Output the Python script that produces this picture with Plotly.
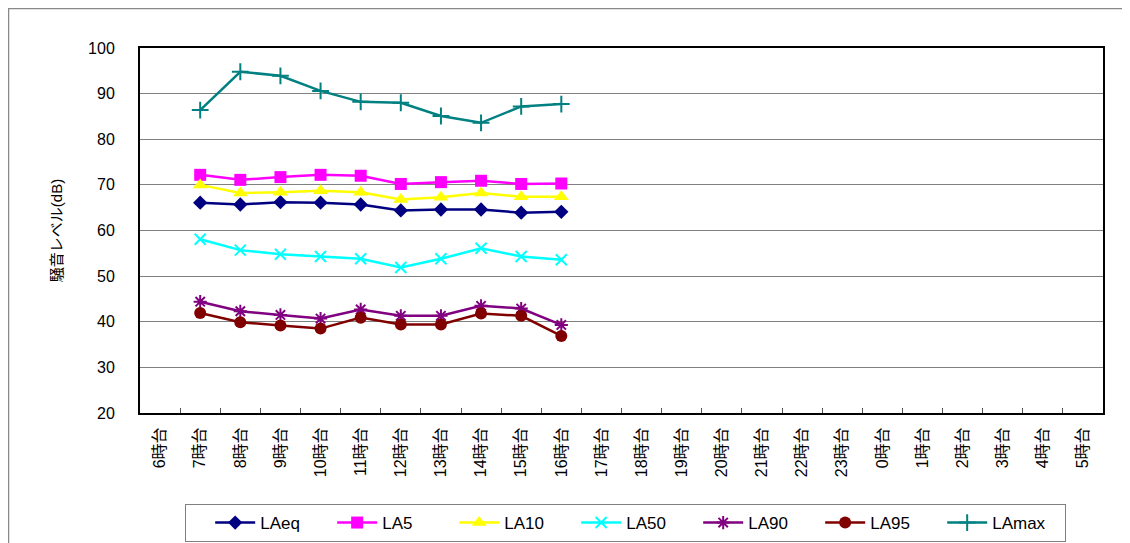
import plotly.graph_objects as go

hours = ["6時台", "7時台", "8時台", "9時台", "10時台", "11時台", "12時台", "13時台",
         "14時台", "15時台", "16時台", "17時台", "18時台", "19時台", "20時台", "21時台",
         "22時台", "23時台", "0時台", "1時台", "2時台", "3時台", "4時台", "5時台"]
measured = ["7時台", "8時台", "9時台", "10時台", "11時台", "12時台", "13時台",
            "14時台", "15時台", "16時台"]

LAeq = [66.1, 65.7, 66.2, 66.1, 65.7, 64.4, 64.6, 64.6, 63.9, 64.1]
LA5 = [72.2, 71.1, 71.7, 72.2, 72.0, 70.2, 70.6, 70.9, 70.2, 70.3]
LA10 = [70.0, 68.2, 68.4, 68.7, 68.4, 66.8, 67.3, 68.2, 67.4, 67.4]
LA50 = [58.1, 55.7, 54.8, 54.3, 53.8, 51.9, 53.8, 56.1, 54.3, 53.6]
LA90 = [44.4, 42.3, 41.5, 40.7, 42.7, 41.3, 41.3, 43.5, 42.9, 39.3]
LA95 = [41.9, 39.9, 39.2, 38.5, 40.9, 39.4, 39.4, 41.8, 41.3, 36.9]
LAmax = [86.4, 94.8, 93.9, 90.6, 88.2, 88.0, 85.1, 83.6, 87.2, 87.7]

series = [
    ("LAeq", LAeq, "#000080", "diamond", 11),
    ("LA5", LA5, "#FF00FF", "square", 12),
    ("LA10", LA10, "#FFFF00", "triangle-up", 13),
    ("LA50", LA50, "#00FFFF", "x-thin", 11),
    ("LA90", LA90, "#800080", "asterisk", 11),
    ("LA95", LA95, "#800000", "circle", 12),
    ("LAmax", LAmax, "#008080", "cross-thin", 12),
]

fig = go.Figure()
for name, vals, color, sym, size in series:
    thin = sym.endswith("-thin") or sym == "asterisk"
    fig.add_trace(go.Scatter(
        x=measured, y=vals, name=name, mode="lines+markers",
        line=dict(color=color, width=2.5),
        marker=dict(symbol=sym, size=size, color=color,
                    line=dict(color=color, width=2 if thin else 0)),
    ))

font_family = "Liberation Sans, Noto Sans CJK JP, sans-serif"

L, R, T, B = 132, 1095, 40, 405
PW, PH = R - L, B - T

fig.update_layout(
    width=1130, height=543,
    margin=dict(l=L, r=1130 - R, t=T, b=543 - B, autoexpand=False),
    paper_bgcolor="white", plot_bgcolor="white",
    font=dict(family=font_family, color="black", size=14),
    showlegend=True,
    legend=dict(
        orientation="h", x=(177 - L) / PW, y=(B - 496) / PH,
        xanchor="left", yanchor="top",
        bordercolor="#808080", borderwidth=1, bgcolor="white",
        entrywidth=67, entrywidthmode="pixels",
        font=dict(size=17, family=font_family),
        itemwidth=40,
        title=dict(text="\u00a0\u00a0\u00a0", font=dict(size=17)),
    ),
    xaxis=dict(
        type="category", categoryorder="array", categoryarray=hours,
        range=[-0.5, 23.5], automargin=False,
        tickangle=-90, tickson="boundaries", ticks="inside", ticklen=5,
        tickcolor="#555555", ticklabelstandoff=6,
        showgrid=False, showline=True, linecolor="black", linewidth=2,
        mirror=True, tickfont=dict(size=16, family=font_family),
        zeroline=False,
    ),
    yaxis=dict(
        range=[20, 100], dtick=10, tick0=20, automargin=False,
        showgrid=True, gridcolor="#808080", gridwidth=1,
        showline=True, linecolor="black", linewidth=2, mirror=True,
        ticks="", ticklabelstandoff=20,
        tickfont=dict(size=16, family=font_family),
        zeroline=False,
        title=dict(text="騒音レベル(dB)", standoff=22,
                   font=dict(size=15, family=font_family)),
    ),
    shapes=[dict(
        type="rect", xref="paper", yref="paper",
        x0=(0.5 - L) / PW, x1=1.1, y0=-0.6, y1=(B - 0.5) / PH,
        line=dict(color="#888888", width=1.5), layer="below",
    )],
)

fig.write_html("out.html")
